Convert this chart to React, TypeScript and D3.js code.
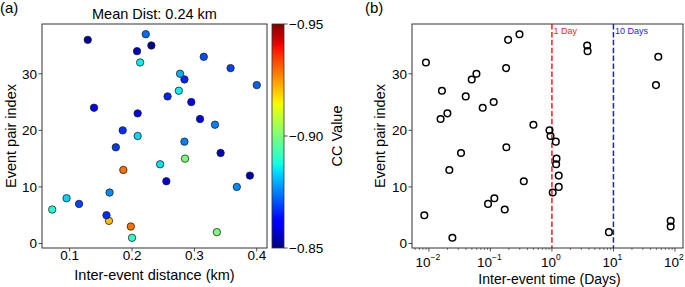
import React from "react";
import * as d3 from "d3";

const pairIndex = d3.range(1, 38);
const distKm = [0.200, 0.336, 0.198, 0.163, 0.159, 0.072, 0.115, 0.095, 0.164, 0.368, 0.255, 0.389, 0.186, 0.245, 0.285, 0.342, 0.174, 0.284, 0.209, 0.185, 0.333, 0.309, 0.209, 0.139, 0.295, 0.257, 0.275, 0.400, 0.284, 0.277, 0.358, 0.213, 0.315, 0.208, 0.231, 0.129, 0.222];
const ccValue = [-0.891, -0.900, -0.929, -0.921, -0.867, -0.889, -0.869, -0.883, -0.876, -0.876, -0.858, -0.854, -0.929, -0.885, -0.900, -0.856, -0.868, -0.875, -0.884, -0.867, -0.875, -0.860, -0.860, -0.862, -0.861, -0.866, -0.886, -0.872, -0.866, -0.880, -0.869, -0.886, -0.870, -0.856, -0.852, -0.853, -0.873];
const interTimeDays = [0.0241, 8.44, 85.2, 85.2, 0.00843, 0.171, 0.0916, 0.116, 1.03, 1.29, 0.349, 1.29, 0.0215, 1.17, 1.187, 0.0333, 0.182, 1.157, 0.949, 0.914, 0.50, 0.0155, 0.020, 0.075, 0.113, 0.0397, 0.0163, 49.1, 0.0497, 0.0593, 0.18, 0.00895, 53.6, 3.8, 3.74, 0.194, 0.297];

const xTicksA = [0.1, 0.2, 0.3, 0.4];
const yTicks = [0, 10, 20, 30];
const ccTicks = [-0.95, -0.9, -0.85];
const logTicksB = [-2, -1, 0, 1, 2];
const refLines = [
  { days: 1, label: "1 Day", color: "#ff1a1a" },
  { days: 10, label: "10 Days", color: "#1a1aff" },
];

const FONT = "'Liberation Sans', Arial, Helvetica, sans-serif";

// matplotlib jet colormap
function seg(pts: number[][], t: number) {
  for (let i = 0; i < pts.length - 1; i++) {
    const [x0, y0] = pts[i];
    const [x1, y1] = pts[i + 1];
    if (t >= x0 && t <= x1) return y0 + ((t - x0) / (x1 - x0)) * (y1 - y0);
  }
  return pts[pts.length - 1][1];
}
function jet(t: number) {
  t = Math.max(0, Math.min(1, t));
  const r = seg([[0, 0], [0.35, 0], [0.66, 1], [0.89, 1], [1, 0.5]], t);
  const g = seg([[0, 0], [0.125, 0], [0.375, 1], [0.64, 1], [0.91, 0], [1, 0]], t);
  const b = seg([[0, 0.5], [0.11, 1], [0.34, 1], [0.65, 0], [1, 0]], t);
  return d3.rgb(r * 255, g * 255, b * 255).formatHex();
}

function pad(ext: [number, number], f = 0.05): [number, number] {
  const r = ext[1] - ext[0];
  return [ext[0] - r * f, ext[1] + r * f];
}

const fmtMinus = (s: string) => s.replace("-", "\u2212");

export default function App() {
  const A = { l: 42, r: 267, t: 24, b: 248 };
  const B = { l: 412, r: 683, t: 24, b: 248 };
  const CB = { l: 272, r: 284, t: 24, b: 248 };

  const xA = d3.scaleLinear().domain(pad(d3.extent(distKm) as [number, number])).range([A.l, A.r]);
  const yDom = pad(d3.extent(pairIndex) as [number, number]);
  const yA = d3.scaleLinear().domain(yDom).range([A.b, A.t]);
  const yB = d3.scaleLinear().domain(yDom).range([B.b, B.t]);
  const logExt = (d3.extent(interTimeDays) as [number, number]).map(Math.log10) as [number, number];
  const logDom = pad(logExt);
  const xB = d3.scaleLog().domain([10 ** logDom[0], 10 ** logDom[1]]).range([B.l, B.r]);
  const cNorm = d3.scaleLinear().domain([-0.85, -0.95]).range([0, 1]);
  const yCB = d3.scaleLinear().domain([-0.85, -0.95]).range([CB.b, CB.t]);

  const minorTicks: number[] = [];
  for (let e = -3; e <= 2; e++) {
    for (let m = 2; m <= 9; m++) {
      const v = m * 10 ** e;
      if (v >= xB.domain()[0] && v <= xB.domain()[1]) minorTicks.push(v);
    }
  }

  const gradStops = d3.range(0, 1.0001, 0.02);
  const tickColor = "#222";
  const fs = 13.5;
  const ls = 14.5;

  return (
    <svg width={685} height={287} style={{ position: "absolute", left: 0, top: 0, background: "#fff" }} fontFamily={FONT}>
      <defs>
        <linearGradient id="jetgrad" x1="0" y1="1" x2="0" y2="0">
          {gradStops.map((s, i) => (
            <stop key={i} offset={s} stopColor={jet(s)} />
          ))}
        </linearGradient>
      </defs>

      {/* Panel (a) */}
      <text x={0} y={12.5} fontSize={15}>(a)</text>
      <text x={(A.l + A.r) / 2} y={19} fontSize={ls} textAnchor="middle">Mean Dist: 0.24 km</text>
      {pairIndex.map((p, i) => (
        <circle key={i} cx={xA(distKm[i])} cy={yA(p)} r={3.7} fill={jet(cNorm(ccValue[i]))} stroke="#222" strokeWidth={0.8} />
      ))}
      <rect x={A.l} y={A.t} width={A.r - A.l} height={A.b - A.t} fill="none" stroke="#333" strokeWidth={1} />
      {xTicksA.map((v) => (
        <g key={v}>
          <line x1={xA(v)} x2={xA(v)} y1={A.b} y2={A.b + 3.5} stroke={tickColor} strokeWidth={0.8} />
          <text x={xA(v)} y={A.b + 12} fontSize={fs} textAnchor="middle">{v.toFixed(1)}</text>
        </g>
      ))}
      {yTicks.map((v) => (
        <g key={v}>
          <line x1={A.l - 3.5} x2={A.l} y1={yA(v)} y2={yA(v)} stroke={tickColor} strokeWidth={0.8} />
          <text x={A.l - 5} y={yA(v) + 4.8} fontSize={fs} textAnchor="end">{v}</text>
        </g>
      ))}
      <text x={(A.l + A.r) / 2} y={280} fontSize={ls} textAnchor="middle">Inter-event distance (km)</text>
      <text transform={`translate(15.5,${(A.t + A.b) / 2}) rotate(-90)`} fontSize={ls} textAnchor="middle">Event pair index</text>

      {/* Colorbar */}
      <rect x={CB.l} y={CB.t} width={CB.r - CB.l} height={CB.b - CB.t} fill="url(#jetgrad)" stroke="#333" strokeWidth={0.8} />
      {ccTicks.map((v) => (
        <g key={v}>
          <line x1={CB.r} x2={CB.r + 3.5} y1={yCB(v)} y2={yCB(v)} stroke={tickColor} strokeWidth={0.8} />
          <text x={CB.r + 5} y={yCB(v) + 4.8} fontSize={fs}>{fmtMinus(v.toFixed(2))}</text>
        </g>
      ))}
      <text transform={`translate(342,${(CB.t + CB.b) / 2}) rotate(-90)`} fontSize={ls} textAnchor="middle">CC Value</text>

      {/* Panel (b) */}
      <text x={365} y={12.5} fontSize={15}>(b)</text>
      {refLines.map((r) => (
        <g key={r.days}>
          <line x1={xB(r.days)} x2={xB(r.days)} y1={B.t} y2={B.b} stroke={r.color} strokeWidth={1.5} strokeDasharray="5.5,2.4" />
          <text x={xB(r.days) + 1.5} y={B.t + 10} fontSize={9} fill={r.color}>{r.label}</text>
        </g>
      ))}
      {pairIndex.map((p, i) => (
        <circle key={i} cx={xB(interTimeDays[i])} cy={yB(p)} r={3.3} fill="none" stroke="#000" strokeWidth={1.5} />
      ))}
      <rect x={B.l} y={B.t} width={B.r - B.l} height={B.b - B.t} fill="none" stroke="#333" strokeWidth={1} />
      {minorTicks.map((v, i) => (
        <line key={i} x1={xB(v)} x2={xB(v)} y1={B.b} y2={B.b + 2} stroke={tickColor} strokeWidth={0.6} />
      ))}
      {logTicksB.map((e) => (
        <g key={e}>
          <line x1={xB(10 ** e)} x2={xB(10 ** e)} y1={B.b} y2={B.b + 3.5} stroke={tickColor} strokeWidth={0.8} />
          <text x={xB(10 ** e) - 1} y={B.b + 19} fontSize={fs} textAnchor="middle">
            10
            <tspan fontSize={8.5} dy={-7}>{fmtMinus(String(e))}</tspan>
          </text>
        </g>
      ))}
      {yTicks.map((v) => (
        <g key={v}>
          <line x1={B.l - 3.5} x2={B.l} y1={yB(v)} y2={yB(v)} stroke={tickColor} strokeWidth={0.8} />
          <text x={B.l - 5} y={yB(v) + 4.8} fontSize={fs} textAnchor="end">{v}</text>
        </g>
      ))}
      <text x={(B.l + B.r) / 2 + 2} y={283.5} fontSize={14} textAnchor="middle">Inter-event time (Days)</text>
      <text transform={`translate(385,${(B.t + B.b) / 2}) rotate(-90)`} fontSize={ls} textAnchor="middle">Event pair index</text>
    </svg>
  );
}
